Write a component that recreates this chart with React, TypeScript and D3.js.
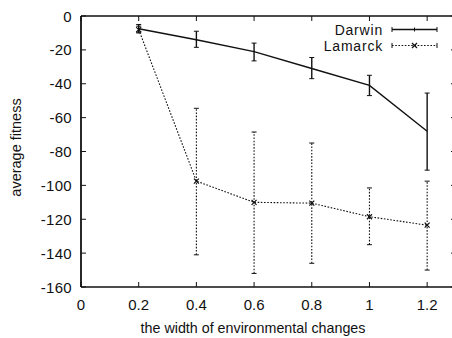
import React from "react";
import * as d3 from "d3";

const widths = [0.2, 0.4, 0.6, 0.8, 1.0, 1.2];
const darwinMean = [-7.5, -14, -21, -31, -41, -68];
const darwinLow = [-10, -18.5, -26.5, -37, -47, -91];
const darwinHigh = [-5, -9, -16, -24.5, -35, -45.5];
const lamarckMean = [-8, -97.5, -110, -110.5, -118.5, -123.5];
const lamarckLow = [-9.5, -141, -152, -146, -135, -150];
const lamarckHigh = [-6, -54.5, -68.5, -75, -101.5, -97.5];
const xTicks = [0, 0.2, 0.4, 0.6, 0.8, 1, 1.2];
const yTicks = [0, -20, -40, -60, -80, -100, -120, -140, -160];
const seriesNames = ["Darwin", "Lamarck"];

const W = 452, H = 338;
const L = 81, T = 16, R = 456, B = 287;

export default function App() {
  const x = d3.scaleLinear().domain([0, 1.3]).range([L, R]);
  const y = d3.scaleLinear().domain([-160, 0]).range([B, T]);
  const line = d3.line<number>().x((_, i) => x(widths[i])).y((d) => y(d));
  const font = "'Liberation Sans', Arial, sans-serif";
  const dot = "1.6,1.6";

  const series = [
    { name: seriesNames[0], mean: darwinMean, low: darwinLow, high: darwinHigh, dash: undefined as string | undefined, sw: 1.4 },
    { name: seriesNames[1], mean: lamarckMean, low: lamarckLow, high: lamarckHigh, dash: dot, sw: 1.1 },
  ];

  return (
    <svg width={W} height={H} style={{ position: "absolute", left: 0, top: 0, background: "#fff" }} fontFamily={font}>
      {/* frame */}
      <line x1={L} y1={T} x2={R} y2={T} stroke="#111" strokeWidth={1.5} />
      <line x1={L} y1={B} x2={R} y2={B} stroke="#111" strokeWidth={1.5} />
      <line x1={L} y1={T} x2={L} y2={B} stroke="#111" strokeWidth={1.8} />
      <line x1={R} y1={T} x2={R} y2={B} stroke="#111" strokeWidth={1.5} />
      {/* x ticks */}
      {xTicks.map((t) => (
        <g key={"x" + t}>
          <line x1={x(t)} x2={x(t)} y1={B} y2={B - 5} stroke="#111" strokeWidth={1} />
          <line x1={x(t)} x2={x(t)} y1={T} y2={T + 5} stroke="#111" strokeWidth={1} />
          <text x={x(t)} y={B + 23} textAnchor="middle" fontSize={15} fill="#111">{t}</text>
        </g>
      ))}
      {/* y ticks */}
      {yTicks.map((t) => (
        <g key={"y" + t}>
          <line x1={L} x2={L + 5} y1={y(t)} y2={y(t)} stroke="#111" strokeWidth={1} />
          <line x1={R} x2={R - 5} y1={y(t)} y2={y(t)} stroke="#111" strokeWidth={1} />
          <text x={72} y={y(t) + 5.5} textAnchor="end" fontSize={15} letterSpacing={0.3} fill="#111">{t}</text>
        </g>
      ))}
      <text x={253} y={333} textAnchor="middle" fontSize={14.3} fill="#111">the width of environmental changes</text>
      <text transform={`translate(21,${(T + B) / 2 - 4}) rotate(-90)`} textAnchor="middle" fontSize={14.5} fill="#111">average fitness</text>

      {series.map((s) => (
        <g key={s.name}>
          <path d={line(s.mean) || ""} fill="none" stroke="#111" strokeWidth={s.sw} strokeDasharray={s.dash} />
          {widths.map((w, i) => (
            <g key={i}>
              <line x1={x(w)} x2={x(w)} y1={y(s.low[i])} y2={y(s.high[i])} stroke="#111" strokeWidth={s.sw} strokeDasharray={s.dash} />
              <line x1={x(w) - 2.5} x2={x(w) + 2.5} y1={y(s.low[i])} y2={y(s.low[i])} stroke="#111" strokeWidth={1} />
              <line x1={x(w) - 2.5} x2={x(w) + 2.5} y1={y(s.high[i])} y2={y(s.high[i])} stroke="#111" strokeWidth={1} />
              {s.dash ? (
                <path d={`M${x(w) - 2.5},${y(s.mean[i]) - 2.5}L${x(w) + 2.5},${y(s.mean[i]) + 2.5}M${x(w) - 2.5},${y(s.mean[i]) + 2.5}L${x(w) + 2.5},${y(s.mean[i]) - 2.5}`} stroke="#111" strokeWidth={1.2} />
              ) : null}
            </g>
          ))}
        </g>
      ))}

      {/* legend */}
      {series.map((s, k) => {
        const ly = 29.5 + k * 16;
        const x1 = 392, x2 = 437, xm = (x1 + x2) / 2;
        return (
          <g key={"lg" + s.name}>
            <text x={383} y={ly + 5} textAnchor="end" fontSize={14} letterSpacing={0.8} fill="#111">{s.name}</text>
            <line x1={x1} x2={x2} y1={ly} y2={ly} stroke="#111" strokeWidth={s.sw} strokeDasharray={s.dash} />
            <line x1={x1} x2={x1} y1={ly - 2.5} y2={ly + 2.5} stroke="#111" strokeWidth={1} />
            <line x1={x2} x2={x2} y1={ly - 2.5} y2={ly + 2.5} stroke="#111" strokeWidth={1} />
            {s.dash ? (
              <path d={`M${xm - 2.5},${ly - 2.5}L${xm + 2.5},${ly + 2.5}M${xm - 2.5},${ly + 2.5}L${xm + 2.5},${ly - 2.5}`} stroke="#111" strokeWidth={1.2} />
            ) : (
              <line x1={xm} x2={xm} y1={ly - 2} y2={ly + 2} stroke="#111" strokeWidth={1} />
            )}
          </g>
        );
      })}
    </svg>
  );
}
